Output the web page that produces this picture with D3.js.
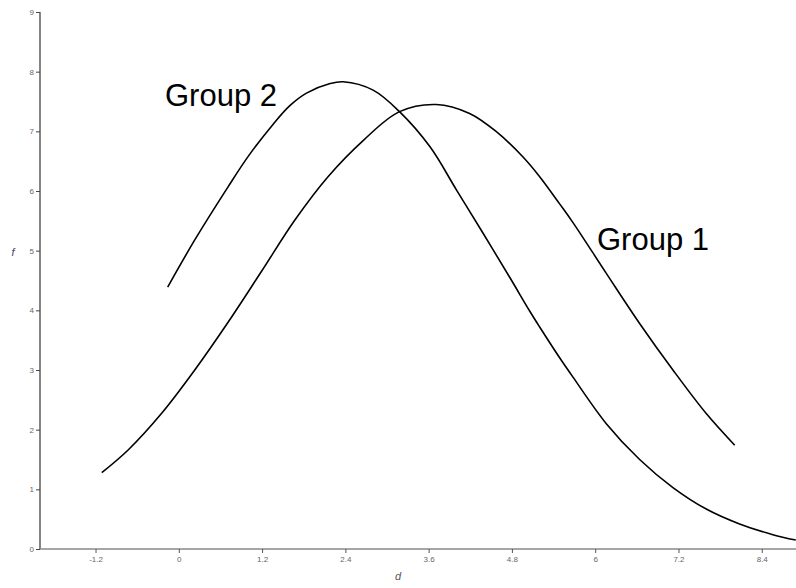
<!DOCTYPE html>
<html>
<head>
<meta charset="utf-8">
<script src="https://cdn.jsdelivr.net/npm/d3@7"></script>
<style>
  html, body { margin: 0; padding: 0; background: #fff; }
  svg { display: block; }
</style>
</head>
<body>
<svg id="chart" width="796" height="588"></svg>
<script>
// Density curves f(d) for the two groups
const group1D = [-1.11, -0.73, -0.25, 0.23, 0.71, 1.19, 1.67, 2.15, 2.66, 3.18, 3.71, 4.19, 4.58, 4.96, 5.20, 5.49, 5.68, 6.16, 6.64, 7.12, 7.60, 8.01];
const group1F = [1.28, 1.66, 2.27, 3.00, 3.80, 4.65, 5.51, 6.24, 6.85, 7.33, 7.45, 7.30, 6.99, 6.57, 6.24, 5.78, 5.47, 4.62, 3.78, 3.00, 2.27, 1.74];

const group2D = [-0.16, 0.23, 0.71, 1.00, 1.36, 1.60, 1.84, 2.18, 2.37, 2.80, 3.18, 3.62, 4.00, 4.38, 4.77, 5.06, 5.20, 5.49, 5.68, 6.16, 6.64, 7.12, 7.60, 8.08, 8.56, 8.89];
const group2F = [4.39, 5.18, 6.07, 6.58, 7.12, 7.43, 7.64, 7.80, 7.83, 7.69, 7.33, 6.74, 6.02, 5.30, 4.55, 3.98, 3.72, 3.20, 2.88, 2.10, 1.50, 1.03, 0.67, 0.42, 0.24, 0.15];

const xTicks = [-1.2, 0, 1.2, 2.4, 3.6, 4.8, 6, 7.2, 8.4];
const yTicks = [0, 1, 2, 3, 4, 5, 6, 7, 8, 9];

const seriesNames = ["Group 1", "Group 2"];

const svg = d3.select("#chart");

const x = d3.scaleLinear().domain([-2, 9]).range([40, 803.4]);
const y = d3.scaleLinear().domain([0, 9]).range([549, 12]);

// Y axis
const yAxis = svg.append("g")
  .attr("transform", `translate(${x(-2)},0)`)
  .call(d3.axisLeft(y).tickValues(yTicks).tickSize(4).tickPadding(2).tickFormat(d3.format("d")));
yAxis.select(".domain").attr("stroke", "#333").attr("stroke-width", 1.2).attr("d", `M0,${y(9)}V${y(0)}`);
yAxis.selectAll(".tick line").attr("stroke", "#444");
yAxis.selectAll(".tick text")
  .attr("fill", "#666")
  .style("font-family", "Liberation Sans, Arial, sans-serif")
  .style("font-size", "8px");

// X axis
const xAxis = svg.append("g")
  .attr("transform", `translate(0,${y(0)})`)
  .call(d3.axisBottom(x).tickValues(xTicks).tickSize(4).tickPadding(3).tickFormat(d => String(d)));
xAxis.select(".domain").attr("stroke", "#888").attr("stroke-width", 1.5).attr("d", `M${x(-2)},0H796`);
xAxis.selectAll(".tick line").attr("stroke", "#555");
xAxis.selectAll(".tick text")
  .attr("fill", "#666")
  .style("font-family", "Liberation Sans, Arial, sans-serif")
  .style("font-size", "8px");

// Axis titles
svg.append("text")
  .attr("x", 13).attr("y", 256)
  .attr("text-anchor", "middle")
  .attr("fill", "#445")
  .style("font-family", "Liberation Sans, Arial, sans-serif")
  .style("font-style", "italic")
  .style("font-size", "11px")
  .text("f");

svg.append("text")
  .attr("x", 398).attr("y", 580)
  .attr("text-anchor", "middle")
  .attr("fill", "#555")
  .style("font-family", "Liberation Sans, Arial, sans-serif")
  .style("font-style", "italic")
  .style("font-size", "11px")
  .text("d");

// Curves
const line = d3.line()
  .x(p => x(p[0]))
  .y(p => y(p[1]))
  .curve(d3.curveCatmullRom.alpha(0.5));

const series = [
  { name: seriesNames[0], pts: d3.zip(group1D, group1F) },
  { name: seriesNames[1], pts: d3.zip(group2D, group2F) }
];

svg.append("defs").append("clipPath").attr("id", "plotClip")
  .append("rect").attr("x", x(-2)).attr("y", 0).attr("width", 796 - x(-2)).attr("height", y(0));

svg.append("g").attr("clip-path", "url(#plotClip)")
  .selectAll("path.curve")
  .data(series)
  .join("path")
  .attr("class", "curve")
  .attr("fill", "none")
  .attr("stroke", "#000")
  .attr("stroke-width", 1.6)
  .attr("d", s => line(s.pts));

// Curve labels
const labelStyle = sel => sel
  .style("font-family", "Liberation Sans, Arial, sans-serif")
  .style("font-size", "31px")
  .attr("fill", "#000");

svg.append("text").attr("x", 165).attr("y", 106).call(labelStyle).text(seriesNames[1]);
svg.append("text").attr("x", 597).attr("y", 250).call(labelStyle).text(seriesNames[0]);
</script>
</body>
</html>
